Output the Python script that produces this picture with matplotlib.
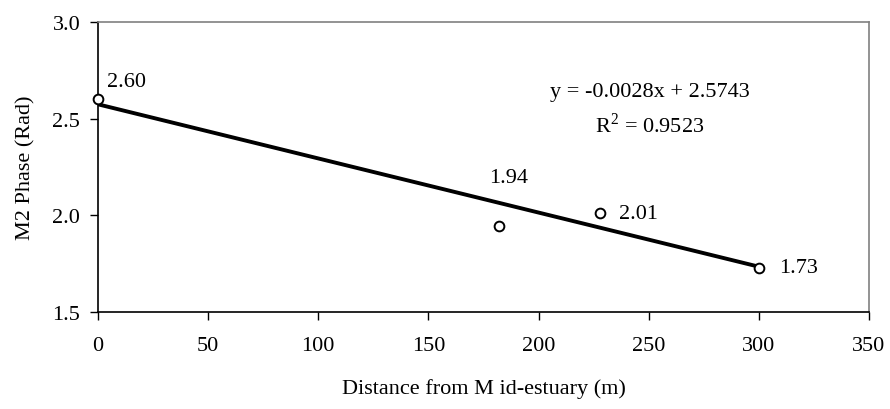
import matplotlib
matplotlib.use("Agg")
import matplotlib.pyplot as plt
import numpy as np

plt.rcParams['font.family'] = ['Liberation Serif', 'DejaVu Serif']
plt.rcParams['mathtext.fontset'] = 'custom'
plt.rcParams['mathtext.rm'] = 'Liberation Serif'

distance = [0, 182, 228, 300]
phase = [2.60, 1.946, 2.012, 1.728]
point_labels = ["2.60", "1.94", "2.01", "1.73"]
slope = -0.0028
intercept = 2.5743
r2 = 0.9523
x_ticks = [0, 50, 100, 150, 200, 250, 300, 350]
y_ticks = [1.5, 2.0, 2.5, 3.0]

FS = 16
W, H = 890, 410
L, R, T, B = 98, 869, 23, 313

fig = plt.figure(figsize=(W/100, H/100), dpi=100)
ax = fig.add_axes([L/W, 1-B/H, (R-L)/W, (B-T)/H])

xf = np.array([min(distance), max(distance)])
ax.plot(xf, slope*xf + intercept, color='black', lw=2.8, zorder=2,
        solid_capstyle='butt')
ax.plot(distance, phase, linestyle='none', marker='o', ms=7, mfc='white',
        mec='black', mew=1.4, zorder=3, clip_on=False)

offsets = [(6.5, 12.7, 'left', 'center'), (7, 35, 'center', 'center'),
           (13.7, 0, 'left', 'center'), (14.4, 0.5, 'left', 'center')]
for x, y, lab, (dx, dy, ha, va) in zip(distance, phase, point_labels, offsets):
    ax.annotate(lab, (x, y), xytext=(dx, dy), textcoords='offset points',
                ha=ha, va=va, fontsize=FS)

ax.text(650/W, 1-92/H, f"y = {slope:.4f}x + {intercept:.4f}",
        transform=fig.transFigure, ha='center', va='center', fontsize=FS)
ax.text(650/W, 1-125/H, f"R$^2$ = {r2:.4f}",
        transform=fig.transFigure, ha='center', va='center', fontsize=FS)

ax.set_xlim(0, 350)
ax.set_ylim(1.5, 3.0)
ax.set_xticks(x_ticks)
ax.set_yticks(y_ticks)
ax.set_yticklabels([f"{v:.1f}" for v in y_ticks])
ax.tick_params(axis='both', direction='out', length=5.8, width=1, labelsize=FS,
               color='black')
ax.tick_params(axis='x', pad=11.5)
ax.tick_params(axis='y', pad=7)
for s in ['left', 'bottom']:
    ax.spines[s].set_color('black')
    ax.spines[s].set_linewidth(1.2)
for s in ['top', 'right']:
    ax.spines[s].set_color('#808080')
    ax.spines[s].set_linewidth(1.2)

ax.set_xlabel("Distance from M id-estuary (m)", fontsize=FS)
ax.set_ylabel("M2 Phase (Rad)", fontsize=FS)
ax.xaxis.set_label_coords(0.5, -(389-B)/(B-T))
ax.xaxis.label.set_verticalalignment('center')
ax.yaxis.set_label_coords(-(L-26)/(R-L), 0.5)
ax.yaxis.label.set_verticalalignment('center')

fig.savefig("out.png", dpi=100)
